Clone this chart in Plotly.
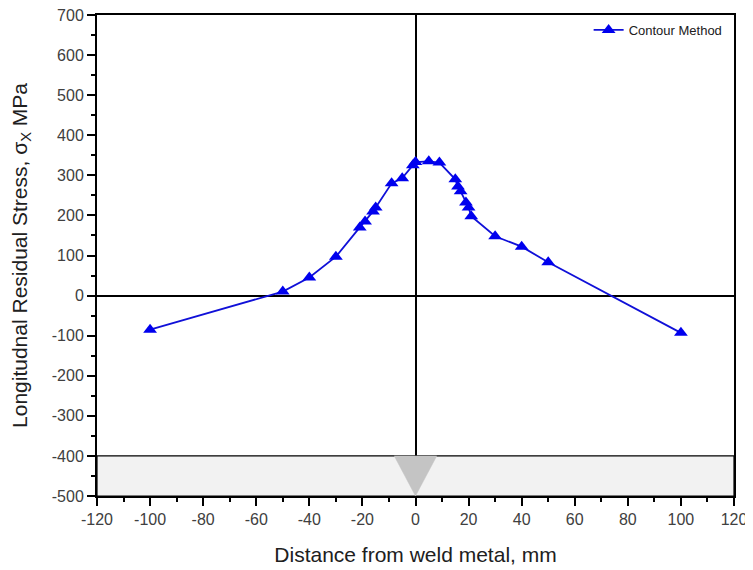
import plotly.graph_objects as go

# Data
distance_mm = [-100, -50, -40, -30, -21, -19, -16, -15, -9, -5, -1, 0, 5, 9,
               15, 16, 17, 19, 20, 21, 30, 40, 50, 100]
stress_mpa = [-85, 10, 45, 97, 170, 185, 210, 220, 280, 293, 325, 333, 335, 332,
              290, 272, 260, 232, 220, 198, 148, 122, 83, -93]

# Plate (grey band) and weld groove (triangle) decoration
plate_x = [-120, 120, 120, -120, -120]
plate_y = [-400, -400, -500, -500, -400]
weld_x = [-8, 8, 0, -8]
weld_y = [-400, -400, -500, -400]

x_ticks = list(range(-120, 121, 20))
y_ticks = list(range(-500, 701, 100))

fig = go.Figure()

fig.add_trace(go.Scatter(
    x=plate_x, y=plate_y, mode="lines", fill="toself",
    fillcolor="#f2f2f2", line=dict(color="black", width=1.2),
    showlegend=False, hoverinfo="skip"))
fig.add_trace(go.Scatter(
    x=weld_x, y=weld_y, mode="lines", fill="toself",
    fillcolor="#c4c4c4", line=dict(color="#c4c4c4", width=0.5),
    showlegend=False, hoverinfo="skip"))

fig.add_trace(go.Scatter(
    x=distance_mm, y=stress_mpa, mode="lines+markers",
    name="Contour Method",
    line=dict(color="#1010d8", width=1.8),
    marker=dict(symbol="triangle-up", size=12, color="#0000ee"),
))

FONT = "Liberation Sans, Arial, sans-serif"
axis_font = dict(family=FONT, size=16, color="#404040")
title_font = dict(family=FONT, size=21, color="#202020")

# The page adds an 8px body margin, so the figure is sized to fit inside the window
fig.update_layout(
    width=745, height=562,
    margin=dict(l=89, r=19, t=7, b=74),
    paper_bgcolor="white", plot_bgcolor="white",
    showlegend=True,
    legend=dict(x=0.99, y=1.0, xanchor="right", yanchor="top",
                bgcolor="rgba(0,0,0,0)", borderwidth=0,
                font=dict(family=FONT, size=13, color="#202020"),
                itemwidth=30),
    xaxis=dict(
        range=[-120, 120], tickvals=x_ticks, ticktext=[str(v) for v in x_ticks],
        showgrid=False, zeroline=True, zerolinecolor="black", zerolinewidth=2,
        showline=True, linecolor="black", linewidth=2, mirror=True,
        ticks="outside", ticklen=8, tickwidth=2, tickcolor="black",
        minor=dict(ticks="outside", ticklen=4, tickwidth=1.5, tickcolor="black", dtick=10),
        tickfont=axis_font, automargin=False, ticklabeloverflow="allow",
        title=dict(text="Distance from weld metal, mm", font=title_font, standoff=20),
    ),
    yaxis=dict(
        range=[-500, 700], tickvals=y_ticks, ticktext=[str(v) for v in y_ticks],
        showgrid=False, zeroline=True, zerolinecolor="black", zerolinewidth=2,
        showline=True, linecolor="black", linewidth=2, mirror=True,
        ticks="outside", ticklen=8, tickwidth=2, tickcolor="black",
        minor=dict(ticks="outside", ticklen=4, tickwidth=1.5, tickcolor="black", dtick=50),
        tickfont=axis_font, automargin=False, ticklabeloverflow="allow",
        title=dict(text="Longitudnal Residual Stress, σ<sub>X</sub> MPa", font=title_font, standoff=22),
    ),
)

fig.write_html("out.html")
